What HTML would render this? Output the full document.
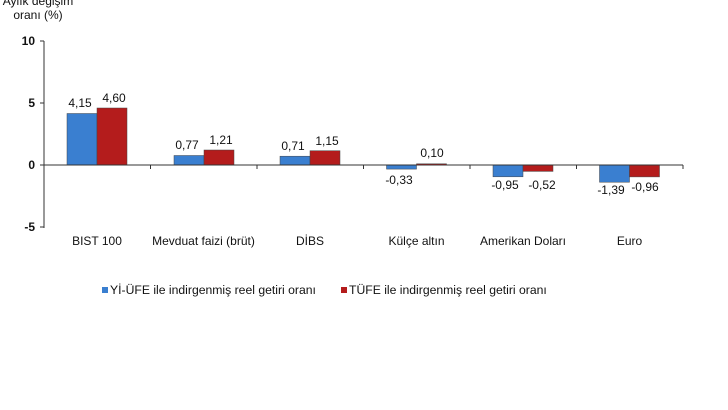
<!DOCTYPE html>
<html><head><meta charset="utf-8"><style>
html,body{margin:0;padding:0;background:#fff;}
svg{display:block;}
text{font-family:"Liberation Sans",Arial,sans-serif;fill:#111;}
</style></head><body>
<svg width="728" height="410" viewBox="0 0 728 410" xmlns="http://www.w3.org/2000/svg">
<text x="38" y="5" font-size="12" text-anchor="middle">Aylık değişim</text>
<text x="38" y="19" font-size="12" text-anchor="middle">oranı (%)</text>
<g font-size="12" font-weight="bold" text-anchor="end">
<text x="35" y="45">10</text>
<text x="35" y="107">5</text>
<text x="35" y="169">0</text>
<text x="35" y="231">-5</text>
</g>
<line x1="44" y1="41" x2="44" y2="228" stroke="#333" stroke-width="1"/>
<g stroke="#333" stroke-width="1">
<line x1="40" y1="41" x2="44" y2="41"/><line x1="40" y1="103" x2="44" y2="103"/>
<line x1="40" y1="165" x2="44" y2="165"/><line x1="40" y1="227" x2="44" y2="227"/>
<line x1="150.5" y1="165" x2="150.5" y2="169"/><line x1="257" y1="165" x2="257" y2="169"/>
<line x1="363.5" y1="165" x2="363.5" y2="169"/><line x1="470" y1="165" x2="470" y2="169"/>
<line x1="576.5" y1="165" x2="576.5" y2="169"/><line x1="683" y1="165" x2="683" y2="169"/>
</g>
<g stroke="#444" stroke-width="0.5">
<rect x="67" y="113.5" width="30" height="51.5" fill="#3a7fd0"/>
<rect x="97" y="108" width="30" height="57" fill="#b41c1c"/>
<rect x="174" y="155.5" width="30" height="9.5" fill="#3a7fd0"/>
<rect x="204" y="150" width="30" height="15" fill="#b41c1c"/>
<rect x="280" y="156.2" width="30" height="8.8" fill="#3a7fd0"/>
<rect x="310" y="150.7" width="30" height="14.3" fill="#b41c1c"/>
<rect x="386.5" y="165" width="30" height="4.1" fill="#3a7fd0"/>
<rect x="416.5" y="163.8" width="30" height="1.2" fill="#b41c1c"/>
<rect x="493" y="165" width="30" height="11.8" fill="#3a7fd0"/>
<rect x="523" y="165" width="30" height="6.4" fill="#b41c1c"/>
<rect x="599.5" y="165" width="30" height="17.2" fill="#3a7fd0"/>
<rect x="629.5" y="165" width="30" height="11.9" fill="#b41c1c"/>
</g>
<line x1="44" y1="165" x2="683" y2="165" stroke="#333" stroke-width="1"/>
<g font-size="12" text-anchor="middle">
<text x="80" y="107">4,15</text><text x="114" y="102">4,60</text>
<text x="187" y="149">0,77</text><text x="221" y="144">1,21</text>
<text x="293" y="150">0,71</text><text x="327" y="145">1,15</text>
<text x="399" y="184">-0,33</text><text x="432" y="157">0,10</text>
<text x="505" y="189">-0,95</text><text x="542" y="189">-0,52</text>
<text x="611" y="194">-1,39</text><text x="645" y="191">-0,96</text>
</g>
<g font-size="12" text-anchor="middle">
<text x="97" y="245">BIST 100</text>
<text x="203.5" y="245">Mevduat faizi (brüt)</text>
<text x="310" y="245">DİBS</text>
<text x="416.5" y="245">Külçe altın</text>
<text x="523" y="245">Amerikan Doları</text>
<text x="629.5" y="245">Euro</text>
</g>
<rect x="102" y="287" width="6" height="6" fill="#3a7fd0"/>
<text x="110" y="294" font-size="12.2">Yİ-ÜFE ile indirgenmiş reel getiri oranı</text>
<rect x="341" y="287" width="6" height="6" fill="#b41c1c"/>
<text x="349" y="294" font-size="12.2">TÜFE ile indirgenmiş reel getiri oranı</text>
</svg>
</body></html>
